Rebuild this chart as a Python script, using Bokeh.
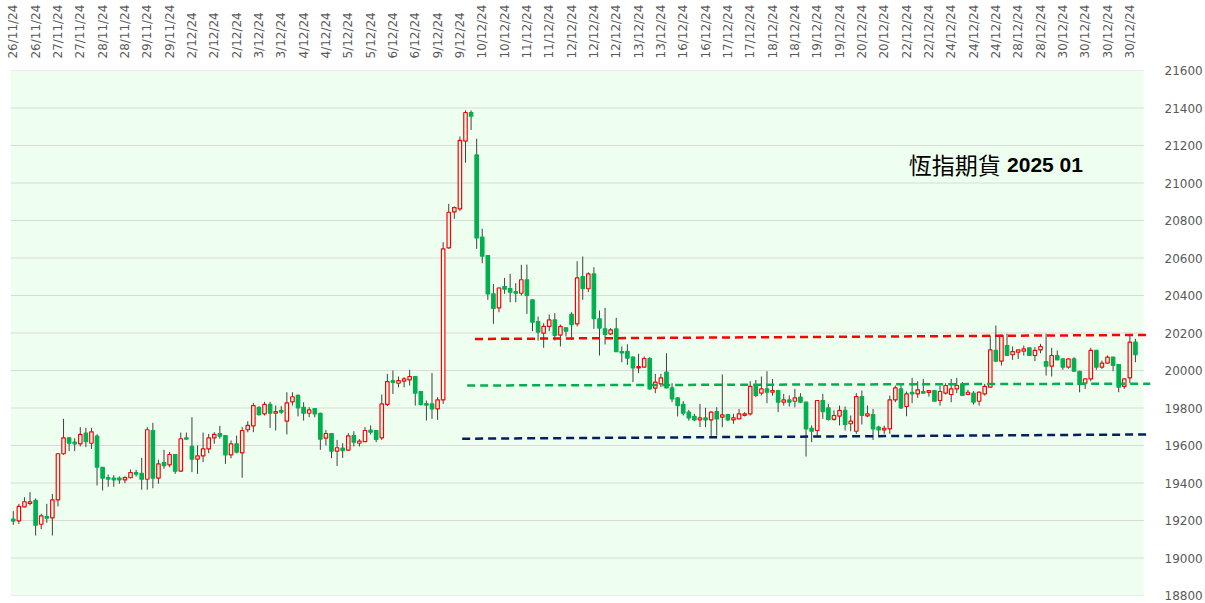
from bokeh.plotting import figure
from bokeh.models import ColumnDataSource, Range1d, FixedTicker, Label, BoxAnnotation
from bokeh.embed import file_html
from bokeh.resources import INLINE

# ---- data ----
opens = [19207,19198,19273,19291,19307,19180,19221,19214,19310,19556,19641,19618,19609,19666,19612,19650,19483,19429,19426,19426,
         19417,19428,19456,19451,19420,19680,19426,19509,19497,19552,19463,19641,19595,19527,19545,19582,19641,19664,19653,19550,
         19609,19561,19684,19705,19803,19769,19819,19772,19787,19730,19833,19867,19804,19772,19797,19772,19639,19664,19570,19586,
         19575,19653,19612,19621,19682,19680,19641,19819,19946,19932,19943,19950,19968,19888,19824,19822,19795,19843,20654,20846,
         20862,21223,21376,21150,20711,20613,20409,20334,20448,20437,20421,20412,20484,20377,20261,20199,20235,20270,20189,20228,
         20299,20249,20501,20436,20515,20276,20222,20195,20222,20101,20102,20071,20014,20018,20064,19906,19929,19991,19907,19854,
         19819,19778,19755,19737,19747,19737,19781,19751,19765,19737,19742,19761,19769,19923,19879,19902,19884,19893,19831,19843,
         19836,19858,19831,19692,19680,19840,19801,19739,19757,19787,19716,19676,19861,19758,19765,19698,19683,19689,19843,19902,
         19808,19884,19875,19888,19883,19893,19840,19879,19872,19902,19929,19872,19879,19836,19875,19911,20107,20050,20133,20084,
         20098,20103,20121,20080,20110,20048,20023,20080,20062,20018,20062,19996,19932,19955,20107,20018,20039,20071,20032,19915,
         19961,20151]
highs = [19250,19289,19324,19351,19317,19236,19289,19342,19560,19742,19645,19639,19698,19694,19694,19660,19485,19445,19442,19435,
         19436,19472,19470,19534,19698,19721,19524,19577,19566,19555,19669,19669,19751,19600,19669,19662,19671,19705,19655,19627,
         19653,19698,19730,19827,19810,19833,19833,19813,19810,19884,19884,19872,19831,19804,19799,19775,19682,19666,19630,19612,
         19666,19676,19634,19698,19707,19682,19872,19982,20000,19968,19964,20003,19970,19890,19840,19986,19858,20684,20889,20875,
         21248,21387,21387,21236,20756,20615,20462,20444,20494,20516,20466,20564,20565,20380,20288,20252,20299,20306,20245,20230,
         20311,20583,20608,20524,20551,20320,20334,20227,20281,20128,20140,20075,20089,20075,20071,19982,19982,20092,19932,19856,
         19836,19790,19769,19822,19801,19783,19804,19979,19769,19769,19795,19778,19943,19950,19968,19996,19955,19897,19875,19867,
         19902,19879,19833,19707,19842,19875,19822,19787,19813,19808,19760,19879,19893,19813,19795,19706,19706,19866,19920,19932,
         19888,19961,19943,19955,19893,19895,19920,19932,19955,19961,19938,19897,19890,19890,19929,20187,20240,20190,20196,20128,
         20110,20133,20123,20124,20142,20196,20121,20107,20064,20062,20071,19998,19955,20121,20110,20053,20080,20073,20034,19957,
         20187,20169]
lows = [19177,19182,19270,19280,19120,19154,19188,19120,19275,19550,19570,19570,19595,19591,19582,19387,19360,19380,19380,19396,
        19399,19425,19435,19364,19364,19372,19396,19476,19484,19449,19460,19632,19458,19449,19511,19559,19609,19636,19502,19532,
        19558,19428,19671,19671,19760,19760,19694,19680,19769,19659,19813,19755,19733,19751,19751,19577,19600,19532,19491,19534,
        19573,19595,19595,19619,19659,19618,19630,19810,19875,19911,19911,19920,19813,19813,19733,19742,19737,19822,20650,20809,
        20850,21108,21283,20649,20572,20377,20249,20311,20409,20364,20364,20400,20302,20210,20160,20121,20210,20160,20128,20181,
        20164,20235,20377,20418,20222,20080,20139,20190,20098,20044,20030,19938,19986,20015,19897,19879,19911,19905,19831,19755,
        19760,19733,19730,19698,19698,19648,19653,19698,19730,19716,19740,19755,19760,19858,19867,19826,19866,19778,19813,19808,
        19804,19826,19541,19618,19648,19742,19733,19733,19707,19680,19676,19662,19712,19751,19630,19653,19662,19662,19831,19795,
        19756,19826,19854,19879,19861,19836,19813,19872,19831,19879,19867,19872,19818,19813,19866,19911,20045,20027,20080,20057,
        20062,20080,20080,20050,20092,19973,19968,20057,20004,20009,19996,19884,19902,19943,20004,20009,20036,19996,19884,19902,
        19932,20044]
closes = [19197,19275,19300,19300,19175,19225,19212,19310,19556,19641,19612,19609,19659,19620,19673,19484,19426,19420,19417,19417,
          19429,19456,19447,19420,19684,19426,19502,19493,19552,19463,19636,19634,19527,19545,19582,19641,19659,19650,19550,19609,
          19564,19680,19707,19813,19764,19819,19772,19781,19778,19827,19860,19801,19772,19790,19769,19634,19664,19570,19588,19573,
          19651,19618,19623,19680,19671,19632,19822,19941,19936,19946,19955,19968,19879,19819,19815,19795,19843,20649,20844,20869,
          21227,21376,21356,20707,20610,20409,20331,20440,20434,20418,20412,20484,20400,20258,20204,20235,20270,20187,20235,20210,
          20245,20494,20436,20515,20276,20226,20192,20217,20100,20094,20066,20014,20021,20064,19902,19938,19961,19907,19849,19813,
          19772,19747,19737,19747,19737,19778,19742,19763,19737,19747,19769,19769,19915,19867,19902,19884,19893,19831,19843,19831,
          19854,19831,19689,19676,19840,19781,19739,19760,19787,19712,19730,19861,19760,19769,19689,19683,19692,19843,19907,19801,
          19875,19875,19897,19879,19893,19836,19888,19920,19902,19920,19867,19884,19831,19884,19915,20110,20050,20187,20080,20101,
          20110,20115,20080,20107,20128,20023,20080,20057,20018,20062,19996,19925,19955,20107,20018,20039,20071,20027,19911,19955,
          20151,20084]
tick_labels = ["26/11/24","26/11/24","27/11/24","27/11/24","28/11/24","28/11/24","29/11/24","29/11/24",
               "2/12/24","2/12/24","2/12/24","3/12/24","3/12/24","4/12/24","4/12/24","5/12/24","5/12/24",
               "6/12/24","6/12/24","9/12/24","9/12/24","10/12/24","10/12/24","11/12/24","11/12/24",
               "12/12/24","12/12/24","12/12/24","13/12/24","13/12/24","16/12/24","16/12/24","17/12/24","17/12/24",
               "18/12/24","18/12/24","19/12/24","19/12/24","20/12/24","20/12/24","22/12/24","22/12/24",
               "24/12/24","24/12/24","24/12/24","28/12/24","28/12/24","30/12/24","30/12/24","30/12/24","30/12/24"]
label_step = 4
n_categories = 203
y_ticks = list(range(18800, 21601, 200))

# trend lines (category position, price); they run slightly past the plot area
trend_red_x = [82.7, 203.7]
trend_red_y = [20168, 20190]
trend_green_x = [81.3, 203.7]
trend_green_y = [19920, 19930]
trend_navy_x = [80.4, 203.7]
trend_navy_y = [19636, 19659]
title_cn = "恆指期貨"
title_num = "2025 01"

# ---- build ----
BG = "#EFFFEF"
UP = "#FF0000"
DOWN = "#00B050"

idx = list(range(len(opens)))
is_up = [c >= o for o, c in zip(opens, closes)]
src = ColumnDataSource(dict(
    x=idx, high=highs, low=lows,
    top=[max(o, c) for o, c in zip(opens, closes)],
    bottom=[min(o, c) for o, c in zip(opens, closes)],
    fill=[BG if u else DOWN for u in is_up],
    line=[UP if u else DOWN for u in is_up],
))

x_end = n_categories - 0.5
p = figure(width=1205, height=603, output_backend="svg", toolbar_location=None,
           x_range=Range1d(-0.5, trend_red_x[1]), y_range=Range1d(y_ticks[0], y_ticks[-1]),
           x_axis_location="above", y_axis_location="right",
           min_border_left=10, min_border_right=50, min_border_top=70, min_border_bottom=8)
p.background_fill_color = "white"
p.border_fill_color = "white"
p.outline_line_color = None
p.add_layout(BoxAnnotation(left=-0.5, right=x_end, fill_color=BG, fill_alpha=1.0,
                           line_color=None, level="underlay"))

p.xgrid.grid_line_color = None
p.ygrid.grid_line_color = None
p.segment(x0=[-0.5] * len(y_ticks), y0=y_ticks, x1=[x_end] * len(y_ticks), y1=y_ticks,
          line_color="#D9D9D9", line_width=1)

xa = p.xaxis[0]
xa.ticker = FixedTicker(ticks=list(range(0, len(tick_labels) * label_step, label_step)))
xa.major_label_overrides = {i * label_step: t for i, t in enumerate(tick_labels)}
xa.major_label_orientation = 1.5707963
xa.major_label_text_font = "DejaVu Sans"
xa.major_label_text_font_size = "12px"
xa.major_label_text_color = "#595959"
xa.axis_line_color = None
xa.major_tick_line_color = None
xa.minor_tick_line_color = None
xa.major_label_standoff = 6

ya = p.yaxis[0]
ya.ticker = FixedTicker(ticks=y_ticks)
ya.major_label_text_font = "DejaVu Sans"
ya.major_label_text_font_size = "12px"
ya.major_label_text_color = "#595959"
ya.axis_line_color = None
ya.major_tick_line_color = None
ya.minor_tick_line_color = None
ya.major_label_standoff = 8

p.segment("x", "high", "x", "low", source=src, line_color="#404040", line_width=1)
p.vbar(x="x", top="top", bottom="bottom", width=0.62, source=src,
       fill_color="fill", line_color="line", line_width=1.2)

p.line(trend_red_x, trend_red_y, line_color="#FF0000", line_width=2.5, line_dash="8 5")
p.line(trend_green_x, trend_green_y, line_color="#00B050", line_width=2.5, line_dash="8 5")
p.line(trend_navy_x, trend_navy_y, line_color="#002060", line_width=2.5, line_dash="8 5")

p.add_layout(Label(x=160.4, y=21100, text=title_cn, text_font="Noto Sans CJK TC",
                   text_font_size="23px", text_color="black",
                   text_baseline="middle", text_align="left"))
p.add_layout(Label(x=178.0, y=21100, text=title_num, text_font="Liberation Sans",
                   text_font_size="21px", text_font_style="bold", text_color="black",
                   text_baseline="middle", text_align="left"))

open("out.html", "w").write(file_html(p, INLINE))
